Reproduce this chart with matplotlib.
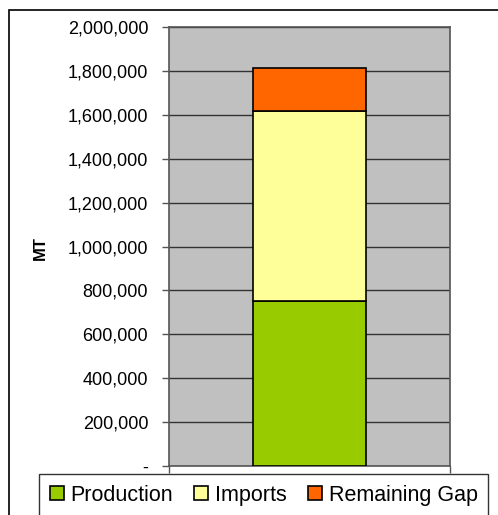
import numpy as np
import matplotlib.pyplot as plt
from matplotlib.patches import Rectangle
from matplotlib.ticker import FuncFormatter

plt.rcParams['font.family'] = ['Liberation Sans', 'DejaVu Sans']

series = ['Production', 'Imports', 'Remaining Gap']
values = [750000, 867000, 196000]
colors = ['#99CC00', '#FFFF99', '#FF6600']

W, H = 498, 515
fig = plt.figure(figsize=(W / 100, H / 100), dpi=100)

# outer chart border (runs off right/bottom edge)
fig.patches.append(Rectangle((9 / W, -0.1), 1.1, (H - 10) / H + 0.1,
                             transform=fig.transFigure, fill=False,
                             edgecolor='black', linewidth=1.2))

ax = fig.add_axes([169 / W, 1 - 466 / H, (450 - 169) / W, (466 - 27) / H])
ax.set_facecolor('#C0C0C0')

bottom = 0
handles = []
for name, v, c in zip(series, values, colors):
    b = ax.bar(0, v, width=0.4, bottom=bottom, color=c, edgecolor='black',
               linewidth=1.2, label=name, zorder=3)
    handles.append(b)
    bottom += v

ax.set_xlim(-0.5, 0.5)
ax.set_ylim(0, 2000000)
ax.set_yticks(np.arange(0, 2000001, 200000))
ax.yaxis.set_major_formatter(FuncFormatter(lambda v, p: '-' if v == 0 else f'{int(v):,}'))
ax.yaxis.grid(True, color='#333333', linewidth=1, zorder=1)
ax.set_xticks([-0.5, 0.5])
ax.set_xticklabels([])
ax.tick_params(axis='both', direction='out', length=5, color='#555555', labelsize=13, width=1)
ax.tick_params(axis='y', pad=10)
for s in ax.spines.values():
    s.set_color('#555555')
    s.set_linewidth(1.2)

fig.text(40 / W, 1 - 248 / H, 'MT', rotation=90, fontsize=12, fontweight='bold',
         ha='center', va='center')

leg = fig.legend(handles=handles, labels=series, loc='upper left',
                 bbox_to_anchor=(39 / W, 1 - 474 / H), ncol=3, fontsize=15.5,
                 frameon=True, fancybox=False, handlelength=0.65, handleheight=0.65,
                 handletextpad=0.3, columnspacing=1.0, borderpad=0.5,
                 borderaxespad=0)
leg.get_frame().set_edgecolor('black')
leg.get_frame().set_linewidth(1)

fig.savefig('out.png', dpi=100)
